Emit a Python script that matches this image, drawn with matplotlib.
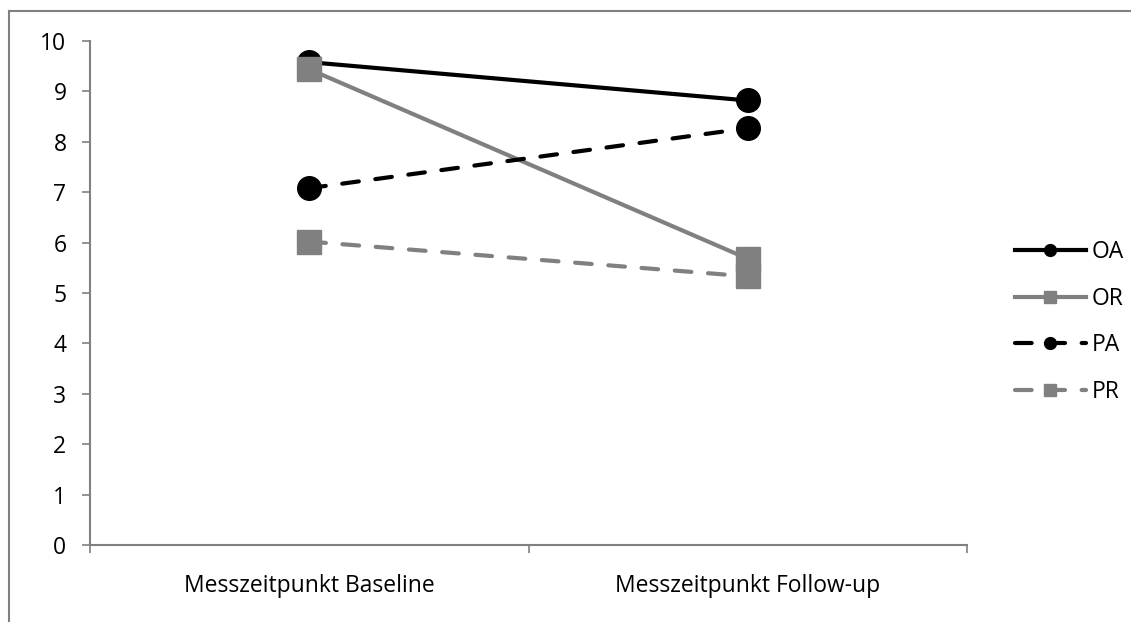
import matplotlib
matplotlib.use('Agg')
import matplotlib.pyplot as plt
from matplotlib.lines import Line2D

plt.rcParams['font.family'] = ['Open Sans', 'DejaVu Sans']

categories = ['Messzeitpunkt Baseline', 'Messzeitpunkt Follow-up']
series_names = ['OA', 'OR', 'PA', 'PR']
oa = [9.58, 8.82]
or_ = [9.44, 5.68]
pa = [7.08, 8.27]
pr = [6.02, 5.33]

gray = '#808080'
styles = [
    dict(color='black', ls='-', marker='o'),
    dict(color=gray, ls='-', marker='s'),
    dict(color='black', ls=(0, (4, 4)), marker='o'),
    dict(color=gray, ls=(0, (4, 4)), marker='s'),
]

fs = 16.5

fig = plt.figure(figsize=(11.31, 6.22), dpi=100)
ax = fig.add_axes([90 / 1131, 77 / 622, 877 / 1131, 504 / 622])

x = [0.5, 1.5]
for vals, name, st in zip([oa, or_, pa, pr], series_names, styles):
    ax.plot(x, vals, color=st['color'], linestyle=st['ls'], lw=3,
            marker=st['marker'], markersize=17, dash_capstyle='round',
            solid_capstyle='butt', label=name)

ax.set_xlim(0, 2)
ax.set_ylim(0, 10)
ax.set_yticks(range(0, 11))
ax.tick_params(axis='y', length=6, color=gray, width=1.2, labelsize=fs, pad=11)
ax.set_xticks([0, 1, 2])
ax.set_xticklabels([])
ax.set_xticks(x, minor=True)
ax.set_xticklabels(categories, minor=True)
ax.tick_params(axis='x', which='major', length=6, color=gray, width=1.2, direction='out')
ax.tick_params(axis='x', which='minor', length=0, labelsize=fs, pad=21)
for s in ['top', 'right']:
    ax.spines[s].set_visible(False)
for s in ['left', 'bottom']:
    ax.spines[s].set_color(gray)
    ax.spines[s].set_linewidth(1.5)
for ln in ax.lines:
    ln.set_clip_on(False)

handles = []
for name, st in zip(series_names, styles):
    handles.append(Line2D([], [], color=st['color'], linestyle=st['ls'], lw=3,
                          marker=st['marker'], markersize=8.5,
                          dash_capstyle='round', label=name))
fig.legend(handles=handles, loc='center left', bbox_to_anchor=(994 / 1131, 1 - 322 / 622),
           frameon=False, fontsize=fs, handlelength=3.1, labelspacing=1.0,
           handletextpad=0.25)

# chart frame
fig.add_artist(Line2D([9 / 1131, 1], [1 - 11 / 622] * 2, color=gray, lw=1.5))
fig.add_artist(Line2D([9 / 1131] * 2, [0, 1 - 11 / 622], color=gray, lw=1.5))

fig.savefig('out.png', dpi=100)
